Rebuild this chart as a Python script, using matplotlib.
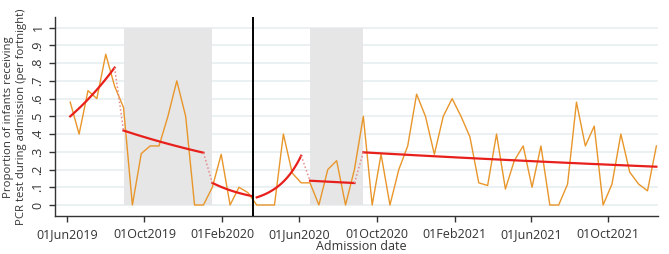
import matplotlib
matplotlib.use('Agg')
import matplotlib.pyplot as plt
import matplotlib.dates as mdates
import numpy as np
import pandas as pd

plt.rcParams['font.family'] = ['Open Sans', 'DejaVu Sans']

# ---- data (fortnightly) ----
start_date = '2019-06-06'
proportion = [0.58, 0.40, 0.645, 0.60, 0.85, 0.67, 0.55, 0.0, 0.29, 0.333,
              0.333, 0.50, 0.70, 0.50, 0.0, 0.0, 0.10, 0.286, 0.0, 0.10,
              0.07, 0.0, 0.0, 0.0, 0.40, 0.18, 0.125, 0.125, 0.0, 0.20,
              0.25, 0.0, 0.20, 0.50, 0.0, 0.286, 0.0, 0.20, 0.333, 0.625,
              0.50, 0.286, 0.50, 0.60, 0.50, 0.385, 0.125, 0.11, 0.40, 0.09,
              0.25, 0.333, 0.10, 0.333, 0.0, 0.0, 0.118, 0.58, 0.333, 0.445,
              0.0, 0.118, 0.40, 0.185, 0.118, 0.08, 0.333]

# fitted segments (exponential trend between endpoints)
seg_start = ['2019-06-06', '2019-08-29', '2020-01-16', '2020-03-26', '2020-06-18', '2020-09-10']
seg_end = ['2019-08-15', '2020-01-02', '2020-03-19', '2020-06-04', '2020-08-27', '2021-12-16']
seg_start_val = [0.50, 0.42, 0.125, 0.043, 0.137, 0.297]
seg_end_val = [0.775, 0.295, 0.05, 0.278, 0.124, 0.216]
connect_pairs = [(0, 1), (1, 2), (3, 4), (4, 5)]

shade_start = ['2019-08-29', '2020-06-18']
shade_end = ['2020-01-16', '2020-09-10']
lockdown = '2020-03-20'

tick_dates = ['2019-06-01', '2019-10-01', '2020-02-01', '2020-06-01',
              '2020-10-01', '2021-02-01', '2021-06-01', '2021-10-01']
y_ticks = [0, 0.1, 0.2, 0.3, 0.4, 0.5, 0.6, 0.7, 0.8, 0.9, 1.0]
y_ticklabels = ['0', '.1', '.2', '.3', '.4', '.5', '.6', '.7', '.8', '.9', '1']

dates = pd.date_range(start_date, periods=len(proportion), freq='14D')

fig = plt.figure(figsize=(6.69, 2.54), dpi=100)
ax = fig.add_axes([0.0822, 0.1496, 0.9018, 0.7847])

# grid lines
for yv in y_ticks:
    ax.axhline(yv, color='#e9eff2', lw=1.3, zorder=0)

# shaded periods
for s, e in zip(shade_start, shade_end):
    ax.fill_between(pd.to_datetime([s, e]), 0, 1, color='#e6e6e6', lw=0, zorder=1)

# observed series
ax.plot(dates, proportion, color='#e8962a', lw=1.0, zorder=3)

# fitted segments
seg_curves = []
for s, e, v0, v1 in zip(seg_start, seg_end, seg_start_val, seg_end_val):
    t0 = pd.Timestamp(s)
    t1 = pd.Timestamp(e)
    tt = pd.date_range(t0, t1, periods=60)
    frac = (tt - t0) / (t1 - t0)
    vv = v0 * (v1 / v0) ** np.asarray(frac, dtype=float)
    ax.plot(tt, vv, color='#e8201c', lw=1.6, zorder=4)
    seg_curves.append((t0, t1, v0, v1))

for a, b in connect_pairs:
    ax.plot([seg_curves[a][1], seg_curves[b][0]], [seg_curves[a][3], seg_curves[b][2]],
            color='#e58a8a', lw=1.1, ls=(0, (1, 1.5)), zorder=4)

ax.axvline(pd.Timestamp(lockdown), color='black', lw=1.4, zorder=5)

ax.set_xlim(pd.Timestamp('2019-05-13'), pd.Timestamp('2021-12-19'))
ax.set_ylim(-0.062, 1.062)

ax.set_xticks(pd.to_datetime(tick_dates))
ax.xaxis.set_major_formatter(mdates.DateFormatter('%d%b%Y'))
ax.set_yticks(y_ticks)
ax.set_yticklabels(y_ticklabels, rotation=90, va='center')

for sp in ['top', 'right']:
    ax.spines[sp].set_visible(False)
for sp in ['left', 'bottom']:
    ax.spines[sp].set_color('#333333')
    ax.spines[sp].set_linewidth(1.0)

ax.tick_params(axis='both', direction='out', length=4.5, width=1.0, color='#333333',
               labelcolor='#333333', labelsize=9)
ax.tick_params(axis='x', pad=4)
ax.tick_params(axis='y', pad=3)

fig.text(361 / 669, 1 - 246 / 254, 'Admission date', ha='center', va='center',
         fontsize=9, color='#333333')
fig.text(15 / 669, 1 - 117 / 254,
         'Proportion of infants receiving\nPCR test during admission (per fortnight)',
         rotation=90, ha='center', va='center', fontsize=8.2, color='#333333',
         multialignment='center', linespacing=1.2)

fig.savefig('out.png', dpi=100)
